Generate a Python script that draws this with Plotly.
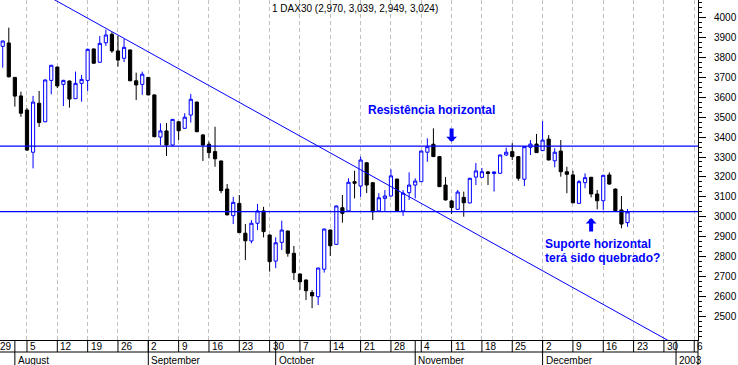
import numpy as np
import pandas as pd
import plotly.graph_objects as go

# ---------------- data ----------------
dates = pd.bdate_range("2002-07-30", "2002-12-20")

open_ = [3856, 3873, 3700, 3607, 3536, 3324, 3570, 3477, 3685, 3752,
         3665, 3682, 3593, 3670, 3685, 3843, 3776, 3874, 3917, 3833,
         3796, 3838, 3683, 3665, 3700, 3612, 3400, 3431, 3360, 3477,
         3444, 3511, 3576, 3411, 3364, 3327, 3280, 3139, 3005, 3067,
         2917, 2878, 2967, 3029, 2908, 2777, 2871, 2928, 2816, 2712,
         2682, 2619, 2598, 2736, 2933, 2861, 3045, 3029, 3176, 3154,
         3271, 3171, 3029, 3092, 3104, 3189, 3029, 3121, 3159, 3176,
         3324, 3364, 3302, 3159, 3079, 3037, 3097, 3069, 3199, 3198,
         3225, 3217, 3218, 3310, 3327, 3302, 3188, 3349, 3365, 3332,
         3390, 3281, 3330, 3226, 3210, 3067, 3171, 3198, 3114, 3080,
         3210, 3139, 3034, 2970]
high = [3884, 3950, 3702, 3628, 3546, 3607, 3632, 3690, 3762, 3754,
        3688, 3684, 3729, 3712, 3845, 3845, 3908, 3940, 3927, 3908,
        3893, 3840, 3724, 3729, 3702, 3614, 3469, 3471, 3491, 3479,
        3520, 3617, 3578, 3415, 3377, 3452, 3282, 3164, 3100, 3109,
        2963, 2983, 3064, 3050, 2910, 2896, 2980, 2930, 2853, 2714,
        2684, 2632, 2744, 2940, 2935, 3056, 3109, 3193, 3231, 3302,
        3275, 3173, 3118, 3134, 3238, 3191, 3134, 3223, 3193, 3332,
        3394, 3444, 3304, 3199, 3084, 3134, 3126, 3195, 3270, 3245,
        3230, 3226, 3312, 3347, 3369, 3304, 3354, 3385, 3416, 3481,
        3410, 3344, 3385, 3251, 3231, 3184, 3218, 3200, 3134, 3210,
        3223, 3141, 3104, 3039]
low = [3749, 3700, 3553, 3502, 3330, 3243, 3451, 3475, 3615, 3647,
       3556, 3548, 3591, 3578, 3632, 3769, 3774, 3858, 3823, 3754,
       3777, 3681, 3586, 3612, 3610, 3399, 3360, 3305, 3355, 3385,
       3442, 3473, 3425, 3280, 3293, 3251, 3118, 3007, 2963, 2918,
       2782, 2866, 2933, 2896, 2724, 2741, 2833, 2799, 2682, 2632,
       2581, 2540, 2556, 2719, 2803, 2859, 2970, 3027, 3092, 3100,
       3119, 2983, 3027, 3029, 3102, 3027, 3004, 3084, 3092, 3174,
       3276, 3300, 3150, 3082, 3014, 3034, 3000, 3067, 3159, 3196,
       3159, 3126, 3216, 3305, 3285, 3181, 3154, 3310, 3320, 3330,
       3283, 3248, 3201, 3118, 3068, 3065, 3143, 3097, 3037, 3034,
       3160, 3028, 2942, 2949]
close = [3883, 3703, 3606, 3520, 3335, 3576, 3473, 3687, 3761, 3657,
         3685, 3591, 3670, 3690, 3841, 3771, 3871, 3913, 3833, 3787,
         3851, 3683, 3662, 3716, 3612, 3402, 3431, 3360, 3489, 3432,
         3500, 3590, 3427, 3360, 3322, 3291, 3131, 3009, 3072, 2920,
         2879, 2967, 3029, 2925, 2774, 2869, 2933, 2816, 2719, 2673,
         2628, 2602, 2742, 2938, 2854, 3054, 3017, 3173, 3168, 3285,
         3159, 3025, 3095, 3104, 3205, 3029, 3118, 3159, 3179, 3330,
         3352, 3302, 3151, 3084, 3046, 3124, 3070, 3193, 3230, 3226,
         3217, 3225, 3310, 3324, 3302, 3193, 3352, 3365, 3322, 3385,
         3285, 3324, 3226, 3213, 3070, 3176, 3196, 3114, 3080, 3208,
         3164, 3030, 2963, 3024]

resistance_level = 3355
support_level = 3025
trend_dates = ["2002-08-08", "2003-01-01"]
trend_values = [4116, 2356]

week_starts = pd.date_range("2002-07-29", "2003-01-06", freq="W-MON")
month_starts = ["2002-08-01", "2002-09-02", "2002-10-01", "2002-11-01",
                "2002-12-02", "2003-01-01"]
month_labels = ["August", "September", "October", "November", "December", "2003"]
y_ticks = list(range(2500, 4001, 100))
title_text = "1 DAX30 (2,970, 3,039, 2,949, 3,024)"
resist_text = "Resistência horizontal"
support_text = ["Suporte horizontal", "terá sido quebrado?"]
resist_arrow_date = "2002-11-11"
support_arrow_date = "2002-12-12"

# ---------------- helpers ----------------
BASE = np.datetime64("2002-07-29")


def tidx(d):
    """trading-day index (weekdays) counted from the base Monday"""
    scalar = np.ndim(d) == 0 and not isinstance(d, (list, pd.Index))
    arr = pd.DatetimeIndex(pd.to_datetime(np.atleast_1d(d))).values.astype("datetime64[D]")
    out = np.busday_count(BASE, arr)
    return int(out[0]) if scalar else out.tolist()


X0, X1 = 0.55, 115.62          # visible trading-day window
Y0, Y1 = 2380.4, 4088.9        # visible price window
BLUE = "#0000ff"
FONT = "Liberation Sans, Arial, sans-serif"
PLOT_H = 340.0


def xfrac(i):
    return (float(i) - X0) / (X1 - X0)


x = tidx(dates)

fig = go.Figure()
fig.add_trace(go.Candlestick(
    x=x, open=open_, high=high, low=low, close=close,
    increasing=dict(line=dict(color=BLUE, width=1), fillcolor="white"),
    decreasing=dict(line=dict(color="black", width=1), fillcolor="black"),
    whiskerwidth=0, showlegend=False, hoverinfo="skip"))

fig.add_trace(go.Scatter(
    x=tidx(trend_dates), y=trend_values, mode="lines",
    line=dict(color=BLUE, width=1), showlegend=False, hoverinfo="skip"))

shapes = []
for lvl in (resistance_level, support_level):
    shapes.append(dict(type="line", xref="paper", yref="y", x0=0, x1=1,
                       y0=lvl, y1=lvl, line=dict(color=BLUE, width=1.3)))

# bottom date ruler
row1 = -12 / PLOT_H
row2 = -25 / PLOT_H
shapes.append(dict(type="line", xref="paper", yref="paper", x0=0, x1=1,
                   y0=row1, y1=row1, line=dict(color="black", width=1)))
shapes.append(dict(type="line", xref="paper", yref="paper", x0=1, x1=1,
                   y0=row2, y1=0, line=dict(color="black", width=1)))

annotations = []
for d in week_starts:
    i = tidx(d)
    shapes.append(dict(type="line", xref="paper", yref="paper", x0=xfrac(i), x1=xfrac(i),
                       y0=row1, y1=0, line=dict(color="black", width=1)))
    annotations.append(dict(xref="paper", yref="paper", x=xfrac(i), y=-6.5 / PLOT_H,
                            text=str(d.day), showarrow=False, xanchor="left",
                            yanchor="middle", xshift=1,
                            font=dict(family=FONT, size=10, color="black")))
for d, lab in zip(month_starts, month_labels):
    i = tidx(d)
    shapes.append(dict(type="line", xref="paper", yref="paper", x0=xfrac(i), x1=xfrac(i),
                       y0=row2, y1=0, line=dict(color="black", width=1)))
    annotations.append(dict(xref="paper", yref="paper", x=xfrac(i), y=-20.5 / PLOT_H,
                            text=lab, showarrow=False, xanchor="left",
                            yanchor="middle", xshift=1,
                            font=dict(family=FONT, size=10, color="black")))

annotations.append(dict(xref="paper", yref="paper", x=270 / 698, y=1 - 8 / PLOT_H,
                        text=title_text, showarrow=False, xanchor="left",
                        yanchor="middle",
                        font=dict(family=FONT, size=10, color="black")))
annotations.append(dict(xref="paper", yref="paper", x=365.5 / 698, y=1 - 110 / PLOT_H,
                        text="<b>" + resist_text + "</b>", showarrow=False,
                        xanchor="left", yanchor="middle",
                        font=dict(family=FONT, size=12, color=BLUE)))
for t, yy in zip(support_text, (244, 258)):
    annotations.append(dict(xref="paper", yref="paper", x=542.5 / 698, y=1 - yy / PLOT_H,
                            text="<b>" + t + "</b>", showarrow=False,
                            xanchor="left", yanchor="middle",
                            font=dict(family=FONT, size=12, color=BLUE)))

# arrows
annotations.append(dict(x=tidx(resist_arrow_date), y=3375, xref="x", yref="y",
                        text="", showarrow=True, ax=0, ay=-15, arrowhead=1,
                        arrowsize=0.45, arrowwidth=4, arrowcolor=BLUE, standoff=0))
annotations.append(dict(x=tidx(support_arrow_date), y=2993, xref="x", yref="y",
                        text="", showarrow=True, ax=0, ay=15, arrowhead=1,
                        arrowsize=0.45, arrowwidth=4, arrowcolor=BLUE, standoff=0))

fig.update_layout(
    width=738, height=365,
    margin=dict(l=0, r=40, t=0, b=25, pad=0),
    paper_bgcolor="white", plot_bgcolor="white",
    showlegend=False, boxgap=0.25,
    shapes=shapes, annotations=annotations,
    xaxis=dict(range=[X0, X1], tickmode="array", tickvals=tidx(week_starts),
               showticklabels=False, ticks="", showgrid=True,
               gridcolor="#c0c0c0", griddash="4px,3px", gridwidth=1,
               zeroline=False, showline=True, linecolor="black", linewidth=1,
               rangeslider=dict(visible=False), fixedrange=True),
    yaxis=dict(range=[Y0, Y1], side="right", tickmode="array", tickvals=y_ticks,
               ticktext=[str(v) for v in y_ticks], ticks="outside", ticklen=7,
               tickcolor="black", tickwidth=1, ticklabelstandoff=6,
               showgrid=False, zeroline=False, showline=True, linecolor="black",
               linewidth=1, fixedrange=True,
               tickfont=dict(family=FONT, size=10, color="black"),
               minor=dict(tickmode="linear", tick0=0, dtick=25, ticks="outside",
                          ticklen=3, tickcolor="black", showgrid=False)),
)

fig.write_html("out.html",
               config={"displayModeBar": False, "staticPlot": True},
               post_script="document.body.style.margin='0';"
                           "document.body.style.overflow='hidden';")
